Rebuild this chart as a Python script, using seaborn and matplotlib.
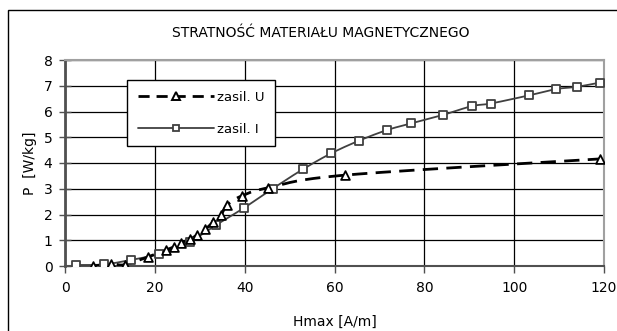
import numpy as np
import pandas as pd
import matplotlib
matplotlib.use("Agg")
import matplotlib.pyplot as plt
import seaborn as sns
from matplotlib.lines import Line2D
from matplotlib.patches import Rectangle

# ---- data ----
title = "STRATNOŚĆ MATERIAŁU MAGNETYCZNEGO"
x_label = "Hmax [A/m]"
y_label = "P  [W/kg]"
series_names = ["zasil. U", "zasil. I"]

h_u = [6.3, 10.3, 13.3, 18.4, 22.5, 24.3, 25.8, 27.8, 29.3, 31.2, 32.9, 34.7,
       36.1, 39.3, 45.3, 62.4, 119.2]
p_u = [0.0, 0.08, 0.05, 0.35, 0.62, 0.75, 0.90, 1.03, 1.20, 1.42, 1.70, 1.98,
       2.37, 2.72, 3.04, 3.53, 4.16]

h_i = [2.4, 8.6, 14.8, 20.9, 27.8, 33.7, 39.8, 46.2, 52.9, 59.2, 65.5, 71.7,
       77.1, 84.2, 90.6, 94.8, 103.4, 109.3, 114.0, 119.0]
p_i = [0.04, 0.06, 0.24, 0.47, 0.95, 1.60, 2.25, 3.00, 3.75, 4.37, 4.87, 5.28,
       5.54, 5.87, 6.21, 6.31, 6.63, 6.87, 6.96, 7.12]

x_ticks = [0, 20, 40, 60, 80, 100, 120]
y_ticks = [0, 1, 2, 3, 4, 5, 6, 7, 8]


def smooth(xs, ys, n=30):
    """Excel-like smoothed line (Catmull-Rom Bezier) through the points."""
    P = np.column_stack([xs, ys]).astype(float)
    out = [P[0]]
    m = len(P)
    for k in range(m - 1):
        p0 = P[k - 1] if k > 0 else P[k]
        p1, p2 = P[k], P[k + 1]
        p3 = P[k + 2] if k + 2 < m else P[k + 1]
        c1 = p1 + (p2 - p0) / 6.0
        c2 = p2 - (p3 - p1) / 6.0
        t = np.linspace(0, 1, n)[1:, None]
        seg = ((1 - t) ** 3) * p1 + 3 * ((1 - t) ** 2) * t * c1 + 3 * (1 - t) * t ** 2 * c2 + t ** 3 * p2
        out.extend(seg)
    out = np.array(out)
    return out[:, 0], out[:, 1]


sns.set_theme(style="white")
plt.rcParams["font.family"] = ["DejaVu Sans"]
plt.rcParams["text.color"] = "black"
plt.rcParams["axes.labelcolor"] = "black"
plt.rcParams["xtick.color"] = "black"
plt.rcParams["ytick.color"] = "black"

W, H = 617, 331
fig = plt.figure(figsize=(W / 100, H / 100), dpi=100)
fig.patch.set_facecolor("white")

# outer chart border (left and top visible in reference)
fig.add_artist(Rectangle((8 / W, -0.05), 1.2, (H - 10) / H + 0.05,
                         transform=fig.transFigure, fill=False,
                         edgecolor="black", linewidth=1.0))

left, right, top, bottom = 65, 604, 60, 266
ax = fig.add_axes([left / W, (H - bottom) / H, (right - left) / W, (bottom - top) / H])
ax.set_facecolor("white")

su_x, su_y = smooth(h_u, p_u)
si_x, si_y = smooth(h_i, p_i)
df_u = pd.DataFrame({"H": su_x, "P": su_y})
df_i = pd.DataFrame({"H": si_x, "P": si_y})

sns.lineplot(data=df_i, x="H", y="P", sort=False, estimator=None, ax=ax,
             color="#404040", linewidth=1.3, zorder=3)
sns.lineplot(data=df_u, x="H", y="P", sort=False, estimator=None, ax=ax,
             color="black", linewidth=2.0, zorder=4)
ax.lines[-1].set_dashes([5.5, 3])

sns.scatterplot(x=h_i, y=p_i, marker="s", s=28, facecolor="white",
                edgecolor="#404040", linewidth=1.3, ax=ax, zorder=5)
sns.scatterplot(x=h_u, y=p_u, marker="^", s=40, facecolor="white",
                edgecolor="black", linewidth=1.3, ax=ax, zorder=6)

ax.set_xlim(0, 120)
ax.set_ylim(0, 8)
ax.set_xticks(x_ticks)
ax.set_yticks(y_ticks)
ax.set_xticklabels([str(v) for v in x_ticks], fontsize=10)
ax.set_yticklabels([str(v) for v in y_ticks], fontsize=10)

ax.grid(True, color="black", linewidth=0.9)
ax.set_axisbelow(True)
for s in ["top", "right"]:
    ax.spines[s].set_color("#a0a0a0")
    ax.spines[s].set_linewidth(1.5)
ax.spines["left"].set_color("#505050")
ax.spines["left"].set_linewidth(2.0)
ax.spines["bottom"].set_color("#505050")
ax.spines["bottom"].set_linewidth(1.5)

ax.tick_params(axis="x", direction="out", length=5, width=1.0,
               color="#505050", labelcolor="black", pad=6)
ax.tick_params(axis="y", direction="inout", length=8, width=1.0,
               color="#505050", labelcolor="black", pad=5)
ax.tick_params(left=True, bottom=True)

ax.set_xlabel(x_label, fontsize=10, labelpad=14, color="black")
ax.set_ylabel(y_label, fontsize=10, labelpad=5, color="black")

fig.text(321 / W, 1 - 33 / H, title, ha="center", va="center", fontsize=10,
         color="black")

handles = [
    Line2D([], [], color="black", linewidth=2.0, dashes=[4, 2.5], marker="^",
           markersize=6, markerfacecolor="white", markeredgecolor="black",
           markeredgewidth=1.4),
    Line2D([], [], color="#404040", linewidth=1.3, marker="s",
           markersize=5, markerfacecolor="white", markeredgecolor="#404040",
           markeredgewidth=1.3),
]
leg = ax.legend(handles, series_names, loc="upper left",
                bbox_to_anchor=((127 - left) / (right - left), (bottom - 80) / (bottom - top)),
                fontsize=9.5, frameon=True, fancybox=False, framealpha=1,
                edgecolor="black", handlelength=5.8, handletextpad=0.25,
                labelspacing=1.45, borderpad=0.8, borderaxespad=0)
leg.get_frame().set_linewidth(1.0)
leg.set_zorder(10)
for t in leg.get_texts():
    t.set_color("black")

fig.savefig("out.png", dpi=100, facecolor="white")
